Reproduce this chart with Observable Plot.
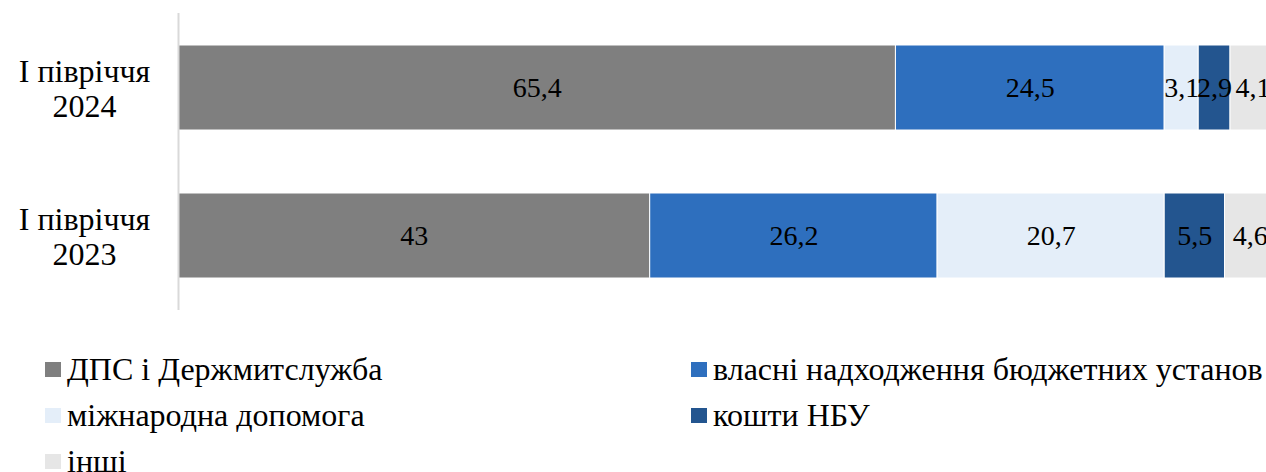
<!DOCTYPE html>
<html>
<head>
<meta charset="utf-8">
<script src="https://cdn.jsdelivr.net/npm/d3@7"></script>
<script src="https://cdn.jsdelivr.net/npm/@observablehq/plot@0.6"></script>
<style>
  html, body { margin: 0; padding: 0; background: #fff; }
  body { width: 1266px; height: 472px; overflow: hidden; }
  #legend { position: relative; height: 137px; color: #000; }
  .item { position: absolute; display: flex; align-items: center; height: 46px; white-space: nowrap; }
  .sw { width: 16px; height: 15px; margin-right: 6px; flex: none; }
</style>
</head>
<body>
<div id="chart"></div>
<div id="legend"></div>
<script>
const periods = ["І півріччя\n2024", "І півріччя\n2023"];
const categories = ["ДПС і Держмитслужба", "власні надходження бюджетних установ", "міжнародна допомога", "кошти НБУ", "інші"];
const colors = ["#7F7F7F", "#2E6FBE", "#E4EEF9", "#23558F", "#E6E6E6"];
const values2024 = [65.4, 24.5, 3.1, 2.9, 4.1];
const values2023 = [43, 26.2, 20.7, 5.5, 4.6];

const FONT = "'Liberation Serif'";

const data = [];
categories.forEach((c, i) => data.push({period: periods[0], category: c, value: values2024[i]}));
categories.forEach((c, i) => data.push({period: periods[1], category: c, value: values2023[i]}));

const fmt = v => String(v).replace(".", ",");

const plot = Plot.plot({
  width: 1266,
  height: 335,
  marginTop: 13,
  marginBottom: 25,
  marginLeft: 178,
  marginRight: 0,
  style: {background: "#fff", overflow: "visible", fontFamily: FONT},
  x: {domain: [0, 100], range: [178, 1275], axis: null},
  y: {domain: periods, paddingInner: 0.4276, paddingOuter: 0.2138, label: null},
  color: {domain: categories, range: colors},
  marks: [
    Plot.barX(data, Plot.stackX({x: "value", y: "period", fill: "category", stroke: "#fff", strokeWidth: 1})),
    Plot.textX(data, Plot.stackX({x: "value", y: "period", z: "category", text: d => fmt(d.value), fill: "#000", fontSize: 28})),
    Plot.ruleX([0], {stroke: "#D9D9D9", strokeWidth: 2}),
    Plot.axisY({tickSize: 0, tickPadding: 94, textAnchor: "middle", fontSize: 32, lineHeight: 1.1, fill: "#000", label: null})
  ]
});
plot.style.fontFamily = FONT;
document.getElementById("chart").appendChild(plot);

const legend = document.getElementById("legend");
const pos = [[45, 11], [691, 11], [45, 57], [691, 57], [45, 103]];
[0, 1, 2, 3, 4].forEach((ci, k) => {
  const it = document.createElement("div");
  it.className = "item";
  it.style.left = pos[k][0] + "px";
  it.style.top = pos[k][1] + "px";
  it.style.fontFamily = FONT;
  it.style.fontSize = "32px";
  const sw = document.createElement("div");
  sw.className = "sw";
  sw.style.background = colors[ci];
  const tx = document.createElement("span");
  tx.textContent = categories[ci];
  it.appendChild(sw); it.appendChild(tx);
  legend.appendChild(it);
});
</script>
</body>
</html>
